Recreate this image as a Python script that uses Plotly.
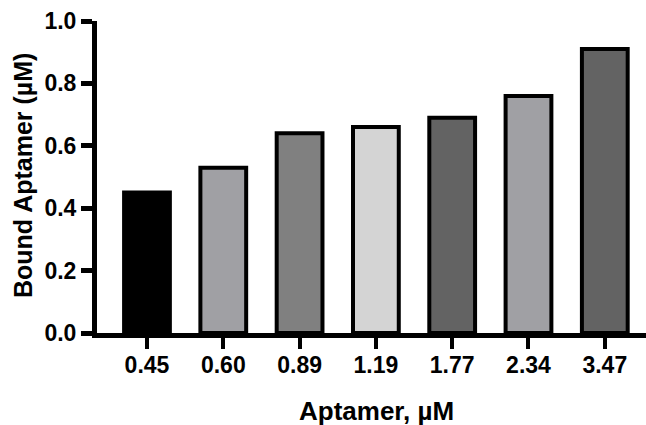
import plotly.graph_objects as go

# Aptamer concentrations (µM) and measured bound aptamer (µM)
concentrations = ["0.45", "0.60", "0.89", "1.19", "1.77", "2.34", "3.47"]
bound = [0.45, 0.53, 0.64, 0.66, 0.69, 0.76, 0.91]
fill_colors = ["#000000", "#a0a0a4", "#808080", "#d4d4d4", "#636363", "#a0a0a4", "#636363"]
y_ticks = [0.0, 0.2, 0.4, 0.6, 0.8, 1.0]

FONT = "Liberation Sans, Arial, sans-serif"

fig = go.Figure(
    go.Bar(
        x=list(range(len(concentrations))),
        y=bound,
        width=0.6,
        marker=dict(color=fill_colors, line=dict(color="black", width=4)),
        showlegend=False,
    )
)

fig.update_layout(
    width=646,
    height=425,
    margin=dict(l=97, r=0, t=21, b=92),
    plot_bgcolor="white",
    paper_bgcolor="white",
    font=dict(family=FONT, size=23, color="black", weight="bold"),
)

fig.update_xaxes(
    range=[-0.655, 6.54],
    tickmode="array",
    tickvals=list(range(len(concentrations))),
    ticktext=concentrations,
    showline=True, linecolor="black", linewidth=5,
    ticks="outside", ticklen=11, tickwidth=4, tickcolor="black",
    ticklabelstandoff=-4,
    showgrid=False, zeroline=False,
    tickfont=dict(family=FONT, size=23, color="black", weight="bold"),
)

fig.update_yaxes(
    range=[0, 1],
    tickmode="array",
    tickvals=y_ticks,
    tickformat=".1f",
    showline=True, linecolor="black", linewidth=5,
    ticks="outside", ticklen=11, tickwidth=5, tickcolor="black",
    showgrid=False, zeroline=False,
    tickfont=dict(family=FONT, size=23, color="black", weight="bold"),
)

# Axis titles
fig.add_annotation(
    text="Aptamer, µM", xref="paper", yref="paper",
    x=(376 - 97) / (646 - 97), y=-(411 - 333) / (333 - 21),
    showarrow=False, xanchor="center", yanchor="middle",
    font=dict(family=FONT, size=26, color="black", weight="bold"),
)
fig.add_annotation(
    text="Bound Aptamer (µM)", xref="paper", yref="paper",
    x=-(97 - 23) / (646 - 97), y=(333 - 176) / (333 - 21),
    textangle=-90, showarrow=False, xanchor="center", yanchor="middle",
    font=dict(family=FONT, size=25, color="black", weight="bold"),
)

fig.write_html("out.html")
